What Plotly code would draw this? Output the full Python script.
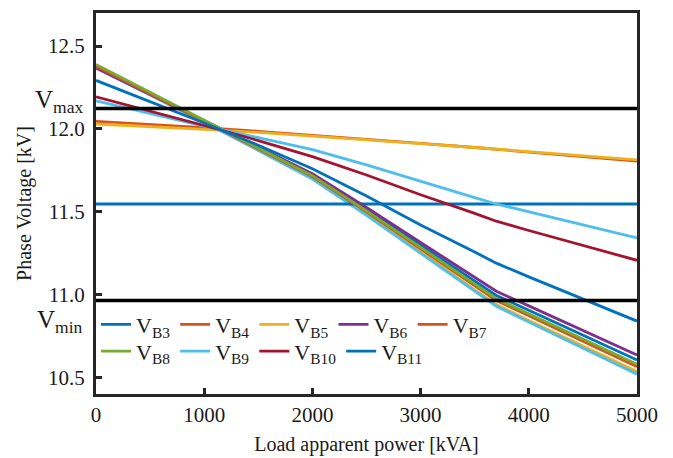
import plotly.graph_objects as go

# Load apparent power [kVA]
load_kva = [0, 500, 1000, 1500, 2000, 2500, 3000, 3500, 3700, 4000, 4500, 5000]

# Phase voltages [kV]
v_b3 = [11.547] * 12
v_b4 = [12.046, 12.028, 12.008, 11.986, 11.963, 11.938, 11.913, 11.888, 11.877, 11.862, 11.835, 11.806]
v_b5 = [12.030, 12.015, 11.998, 11.979, 11.958, 11.936, 11.912, 11.888, 11.878, 11.864, 11.839, 11.813]
v_b6 = [12.369, 12.208, 12.045, 11.889, 11.730, 11.526, 11.315, 11.101, 11.020, 10.932, 10.784, 10.635]
v_b7 = [12.379, 12.213, 12.045, 11.880, 11.713, 11.499, 11.277, 11.050, 10.965, 10.872, 10.719, 10.565]
v_b8 = [12.389, 12.220, 12.050, 11.885, 11.718, 11.505, 11.285, 11.060, 10.975, 10.884, 10.732, 10.580]
v_b9 = [12.170, 12.094, 12.017, 11.948, 11.875, 11.783, 11.682, 11.585, 11.547, 11.499, 11.420, 11.342]
v_b10 = [12.194, 12.108, 12.021, 11.930, 11.833, 11.722, 11.603, 11.490, 11.443, 11.387, 11.297, 11.207]
v_b11 = [12.293, 12.165, 12.036, 11.902, 11.760, 11.595, 11.420, 11.257, 11.190, 11.107, 10.975, 10.840]
# further buses in the bundle (not in legend)
v_b12 = [12.374, 12.211, 12.047, 11.888, 11.726, 11.517, 11.300, 11.079, 10.995, 10.906, 10.756, 10.605]
v_b13 = [12.372, 12.208, 12.042, 11.874, 11.703, 11.485, 11.260, 11.028, 10.940, 10.844, 10.689, 10.535]
v_b14 = [12.369, 12.205, 12.040, 11.870, 11.698, 11.478, 11.250, 11.018, 10.930, 10.834, 10.677, 10.520]

v_max = 12.124
v_min = 10.965

series = [
    ("V<sub>B12</sub>", v_b12, "#0072BD", None),
    ("V<sub>B13</sub>", v_b13, "#EDB120", None),
    ("V<sub>B14</sub>", v_b14, "#4DBEEE", None),
    ("V<sub>B3</sub>", v_b3, "#0072BD", "legend"),
    ("V<sub>B4</sub>", v_b4, "#D95319", "legend"),
    ("V<sub>B5</sub>", v_b5, "#EDB120", "legend"),
    ("V<sub>B6</sub>", v_b6, "#7E2F8E", "legend"),
    ("V<sub>B7</sub>", v_b7, "#D95319", "legend"),
    ("V<sub>B8</sub>", v_b8, "#77AC30", "legend2"),
    ("V<sub>B9</sub>", v_b9, "#4DBEEE", "legend2"),
    ("V<sub>B10</sub>", v_b10, "#A2142F", "legend2"),
    ("V<sub>B11</sub>", v_b11, "#0072BD", "legend2"),
]

FONT = "Liberation Serif"
INK = "#1a1a1a"

fig = go.Figure()
for name, vals, color, leg in series:
    fig.add_trace(go.Scatter(
        x=load_kva, y=vals, mode="lines", name=name,
        line=dict(color=color, width=2.8),
        showlegend=leg is not None,
        legend=leg if leg else "legend",
    ))

fig.add_hline(y=v_max, line=dict(color="black", width=3.5), layer="above")
fig.add_hline(y=v_min, line=dict(color="black", width=3.5), layer="above")

fig.add_annotation(text="V<sub>max</sub>", xref="paper", yref="y", x=-0.02, y=v_max,
                   xanchor="right", yanchor="middle", yshift=7, showarrow=False,
                   font=dict(family=FONT, size=25, color=INK))
fig.add_annotation(text="V<sub>min</sub>", xref="paper", yref="y", x=-0.02, y=v_min,
                   xanchor="right", yanchor="middle", yshift=-21, showarrow=False,
                   font=dict(family=FONT, size=25, color=INK))

axis_common = dict(
    showline=True, linecolor="#262626", linewidth=3, mirror=True,
    ticks="inside", ticklen=6, tickwidth=2.5, tickcolor="#262626",
    showgrid=False, zeroline=False,
    tickfont=dict(family=FONT, size=21, color=INK),
)

fig.update_layout(
    width=665, height=450,
    margin=dict(l=88, r=36, t=2, b=64),
    paper_bgcolor="white", plot_bgcolor="white",
    font=dict(family=FONT, color=INK),
    xaxis=dict(range=[0, 5000], tickvals=[0, 1000, 2000, 3000, 4000, 5000],
               title=dict(text="Load apparent power [kVA]", font=dict(family=FONT, size=20, color=INK), standoff=11),
               **axis_common),
    yaxis=dict(range=[10.4, 12.7], tickvals=[10.5, 11.0, 11.5, 12.0, 12.5], tickformat=".1f",
               ticklabelstandoff=4,
               title=dict(text="Phase Voltage [kV]", font=dict(family=FONT, size=20, color=INK), standoff=12),
               **axis_common),
    legend=dict(orientation="h", x=0.0, y=0.182, xanchor="left", yanchor="middle",
                bgcolor="rgba(0,0,0,0)", font=dict(family=FONT, size=22, color=INK),
                itemwidth=30, tracegroupgap=0),
    legend2=dict(orientation="h", x=0.0, y=0.112, xanchor="left", yanchor="middle",
                 bgcolor="rgba(0,0,0,0)", font=dict(family=FONT, size=22, color=INK),
                 itemwidth=30, tracegroupgap=0),
)

fig.write_html("out.html")
